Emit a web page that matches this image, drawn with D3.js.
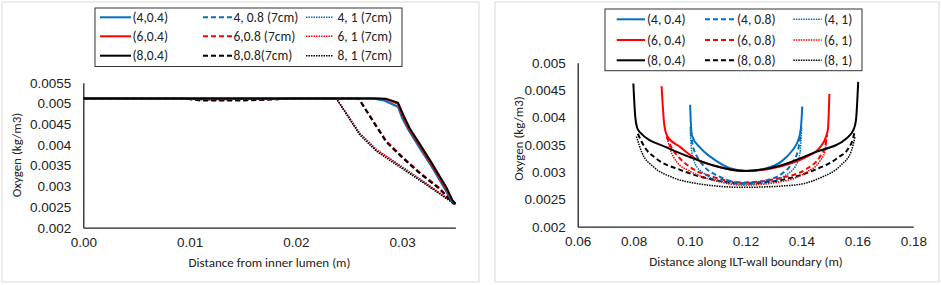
<!DOCTYPE html>
<html><head><meta charset="utf-8">
<script src="https://cdn.jsdelivr.net/npm/d3@7"></script>
<style>
body{margin:0;background:#fff;}
svg{display:block;font-family:Carlito,Lato,"Open Sans",sans-serif;}
</style></head>
<body>
<svg id="c" width="941" height="285"></svg>
<script>
// ---------- LEFT CHART DATA ----------
const leftXTicks = [0, 0.01, 0.02, 0.03];
const leftXLabels = ["0.00", "0.01", "0.02", "0.03"];
const leftYTicks = [0.002, 0.0025, 0.003, 0.0035, 0.004, 0.0045, 0.005, 0.0055];
const leftYLabels = ["0.002", "0.0025", "0.003", "0.0035", "0.004", "0.0045", "0.005", "0.0055"];
const leftNames = ["(4,0.4)", "4, 0.8 (7cm)", "4, 1 (7cm)", "(6,0.4)", "6,0.8 (7cm)", "6, 1 (7cm)", "(8,0.4)", "8,0.8(7cm)", "8, 1 (7cm)"];

const L_4_04 = [[0,0.00512],[0.0272,0.00512],[0.0283,0.00507],[0.0296,0.00492],[0.0300,0.00464],[0.0306,0.00435],[0.0315,0.00398],[0.0327,0.0035],[0.0340,0.00294],[0.0346,0.00266],[0.035,0.00258]];
const L_4_08 = [[0,0.00512],[0.0095,0.00512],[0.011,0.00509],[0.015,0.00509],[0.018,0.0051],[0.020,0.00512],[0.0259,0.00512],[0.0270,0.00468],[0.0285,0.00408],[0.0301,0.00368],[0.0317,0.00331],[0.0335,0.00295],[0.0348,0.00259],[0.035,0.00258]];
const L_4_1 = [[0,0.00512],[0.009,0.00511],[0.012,0.0051],[0.020,0.00512],[0.0238,0.00512],[0.0248,0.00474],[0.0260,0.00428],[0.0276,0.00388],[0.0298,0.0035],[0.0323,0.00306],[0.0348,0.00261],[0.035,0.00258]];
const L_6_04 = [[0,0.00512],[0.0276,0.00512],[0.0285,0.0051],[0.0296,0.00499],[0.0300,0.00472],[0.0306,0.0044],[0.0316,0.0040],[0.0328,0.00351],[0.0341,0.00295],[0.0347,0.00266],[0.035,0.00258]];
const L_6_08 = [[0,0.00512],[0.0095,0.00512],[0.011,0.00508],[0.015,0.00508],[0.018,0.0051],[0.020,0.00512],[0.0259,0.00512],[0.0270,0.00468],[0.0285,0.00409],[0.0301,0.00369],[0.0317,0.00332],[0.0335,0.00296],[0.0348,0.00259],[0.035,0.00258]];
const L_6_1 = [[0,0.00512],[0.009,0.00511],[0.012,0.00509],[0.020,0.00512],[0.0238,0.00512],[0.0248,0.00474],[0.0260,0.00428],[0.0276,0.00388],[0.0298,0.0035],[0.0323,0.00306],[0.0348,0.0026],[0.035,0.00258]];
const L_8_04 = [[0,0.00512],[0.0276,0.00512],[0.0285,0.00511],[0.0296,0.00502],[0.0301,0.00472],[0.0307,0.0044],[0.0317,0.0040],[0.0329,0.00351],[0.0342,0.00295],[0.0347,0.00267],[0.035,0.00258]];
const L_8_08 = [[0,0.00512],[0.0095,0.00512],[0.011,0.00507],[0.015,0.00507],[0.018,0.0051],[0.020,0.00512],[0.0259,0.00512],[0.0270,0.00467],[0.0285,0.00407],[0.0301,0.00367],[0.0317,0.0033],[0.0335,0.00294],[0.0348,0.00259],[0.035,0.00258]];
const L_8_1 = [[0,0.00512],[0.009,0.00511],[0.012,0.00509],[0.020,0.00512],[0.0238,0.00512],[0.0248,0.00472],[0.0260,0.00424],[0.0276,0.00384],[0.0298,0.00346],[0.0323,0.00303],[0.0348,0.00259],[0.035,0.00258]];

// ---------- RIGHT CHART DATA ----------
const rightXTicks = [0.06, 0.08, 0.10, 0.12, 0.14, 0.16, 0.18];
const rightXLabels = ["0.06", "0.08", "0.10", "0.12", "0.14", "0.16", "0.18"];
const rightYTicks = [0.002, 0.0025, 0.003, 0.0035, 0.004, 0.0045, 0.005];
const rightYLabels = ["0.002", "0.0025", "0.003", "0.0035", "0.004", "0.0045", "0.005"];
const rightNames = ["(4, 0.4)", "(4, 0.8)", "(4, 1)", "(6, 0.4)", "(6, 0.8)", "(6, 1)", "(8, 0.4)", "(8, 0.8)", "(8, 1)"];

const R_4_04 = [[0.1002,0.00423],[0.1005,0.00385],[0.1009,0.00366],[0.1037,0.00345],[0.1085,0.00324],[0.1145,0.00307],[0.1204,0.00302],[0.1276,0.00307],[0.1330,0.0032],[0.1365,0.00338],[0.1389,0.00359],[0.1398,0.0038],[0.1403,0.0042]];
const R_4_08 = [[0.1005,0.00374],[0.1010,0.00352],[0.1025,0.0033],[0.1049,0.00312],[0.1109,0.00291],[0.1192,0.0028],[0.1276,0.00285],[0.1330,0.00297],[0.1365,0.00315],[0.1388,0.0034],[0.1397,0.00368]];
const R_4_1 = [[0.1002,0.00382],[0.1007,0.0034],[0.1020,0.00315],[0.1050,0.00298],[0.1109,0.00284],[0.1192,0.00278],[0.1288,0.00282],[0.1345,0.00295],[0.1380,0.00312],[0.1395,0.00335],[0.1401,0.00382]];
const R_6_04 = [[0.0900,0.00457],[0.0910,0.00385],[0.0921,0.00365],[0.0966,0.00346],[0.1026,0.00323],[0.1109,0.00309],[0.1205,0.00302],[0.1323,0.0031],[0.1419,0.00328],[0.1466,0.00345],[0.1488,0.00365],[0.1495,0.0038],[0.1500,0.00443]];
const R_6_08 = [[0.0918,0.00365],[0.0935,0.00345],[0.0960,0.00328],[0.1002,0.00309],[0.1085,0.00291],[0.1192,0.00281],[0.1323,0.00289],[0.1419,0.00306],[0.1466,0.00328],[0.1485,0.00348],[0.1492,0.00368]];
const R_6_1 = [[0.0920,0.00362],[0.0932,0.0034],[0.0955,0.00318],[0.1000,0.00302],[0.1085,0.00285],[0.1192,0.00276],[0.1323,0.00282],[0.1419,0.003],[0.1466,0.0032],[0.1484,0.00338],[0.1490,0.00362]];
const R_8_04 = [[0.0799,0.00462],[0.0806,0.0040],[0.0812,0.00382],[0.0822,0.00373],[0.0918,0.00345],[0.1002,0.00327],[0.1085,0.00312],[0.1192,0.00302],[0.1312,0.0031],[0.1443,0.00335],[0.1562,0.00362],[0.1586,0.00377],[0.1595,0.00395],[0.1603,0.00465]];
const R_8_08 = [[0.0815,0.00370],[0.0840,0.00345],[0.0880,0.00325],[0.0966,0.00304],[0.1085,0.00286],[0.1192,0.00279],[0.1323,0.00285],[0.1443,0.00303],[0.1530,0.00326],[0.1570,0.00345],[0.1585,0.00362],[0.1590,0.00374]];
const R_8_1 = [[0.0810,0.00365],[0.0830,0.00335],[0.0870,0.0031],[0.0940,0.0029],[0.1026,0.00279],[0.1192,0.00272],[0.1371,0.00276],[0.1470,0.0029],[0.1540,0.00312],[0.1578,0.00338],[0.1592,0.00365]];

// ---------- STYLES ----------
const BLUE = "#0070c0", RED = "#ff0000", BLACK = "#000000";
const styles = [
  {c: BLUE, d: null, w: 2}, {c: BLUE, d: "5,3", w: 2}, {c: BLUE, d: "1.5,1", w: 1.5},
  {c: RED, d: null, w: 2}, {c: RED, d: "5,3", w: 2}, {c: RED, d: "1.5,1", w: 1.5},
  {c: BLACK, d: null, w: 2}, {c: BLACK, d: "5,3", w: 2}, {c: BLACK, d: "1.5,1", w: 1.5}
];

const svg = d3.select("#c");

function panel(cfg) {
  const g = svg.append("g");
  g.append("rect").attr("x", cfg.box[0]).attr("y", cfg.box[1]).attr("width", cfg.box[2]).attr("height", cfg.box[3])
    .attr("fill", "#fff").attr("stroke", "#d9d9d9").attr("stroke-width", 1);

  const x = d3.scaleLinear().domain(cfg.xDomain).range([cfg.plot.x0, cfg.plot.x1]);
  const y = d3.scaleLinear().domain(cfg.yDomain).range([cfg.plot.y1, cfg.plot.y0]);

  const yAxis = d3.axisLeft(y).tickValues(cfg.yTicks).tickSize(0).tickPadding(12)
    .tickFormat((d, i) => cfg.yLabels[i]);
  const ya = g.append("g").attr("transform", `translate(${cfg.plot.x0},0)`).call(yAxis);
  const xAxis = d3.axisBottom(x).tickValues(cfg.xTicks).tickSize(0).tickPadding(10)
    .tickFormat((d, i) => cfg.xLabels[i]);
  const xa = g.append("g").attr("transform", `translate(0,${cfg.plot.y1})`).call(xAxis);
  [ya, xa].forEach(a => {
    a.select(".domain").attr("stroke", "#222").attr("stroke-width", 1.3);
    a.selectAll("text").attr("font-size", 13.5).attr("fill", "#222").attr("font-family", null);
  });

  g.append("text").attr("x", cfg.xTitle[1]).attr("y", cfg.xTitle[2]).attr("text-anchor", "middle")
    .attr("font-size", 13).attr("fill", "#222").text(cfg.xTitle[0]);
  g.append("text").attr("transform", `translate(${cfg.yTitle[1]},${cfg.yTitle[2]}) rotate(-90)`)
    .attr("text-anchor", "middle").attr("font-size", 13).attr("fill", "#222").text(cfg.yTitle[0]);

  const line = d3.line().x(d => x(d[0])).y(d => y(d[1])).curve(cfg.curve);
  cfg.drawOrder.forEach(i => {
    const s = styles[i];
    g.append("path").datum(cfg.series[i]).attr("d", line).attr("fill", "none")
      .attr("stroke", s.c).attr("stroke-width", s.w).attr("stroke-dasharray", s.d)
      .attr("stroke-linejoin", "round");
  });

  // legend
  const lg = cfg.legend;
  g.append("rect").attr("x", lg.box[0]).attr("y", lg.box[1]).attr("width", lg.box[2]).attr("height", lg.box[3])
    .attr("fill", "#fff").attr("stroke", "#333").attr("stroke-width", 1);
  cfg.names.forEach((n, i) => {
    const row = Math.floor(i / 3), col = i % 3;
    const s = styles[i];
    const ly = lg.rows[row];
    const c = lg.cols[col];
    g.append("line").attr("x1", c[0]).attr("x2", c[1]).attr("y1", ly).attr("y2", ly)
      .attr("stroke", s.c).attr("stroke-width", s.w).attr("stroke-dasharray", s.d);
    g.append("text").attr("x", c[2]).attr("y", ly).attr("dy", "0.35em").attr("font-size", 13.5)
      .attr("fill", "#222").text(n);
  });
}

panel({
  box: [2, 2, 477, 280],
  xDomain: [0, 0.035], yDomain: [0.002, 0.0055],
  plot: {x0: 83.3, x1: 455.4, y0: 82.7, y1: 227.7},
  xTicks: leftXTicks, xLabels: leftXLabels, yTicks: leftYTicks, yLabels: leftYLabels,
  xTitle: ["Distance from inner lumen (m)", 269.5, 267],
  yTitle: ["Oxygen (kg/m3)", 21, 155],
  curve: d3.curveLinear,
  series: [L_4_04, L_4_08, L_4_1, L_6_04, L_6_08, L_6_1, L_8_04, L_8_08, L_8_1],
  drawOrder: [2, 5, 8, 1, 4, 7, 0, 3, 6],
  names: leftNames,
  legend: {box: [95, 8, 307, 58.5], rows: [17.3, 36.3, 55.7],
    cols: [[100, 131, 132.5], [203, 232, 233.5], [306, 333, 337.5]]}
});

panel({
  box: [495, 2, 444, 280],
  xDomain: [0.06, 0.18], yDomain: [0.002, 0.005],
  plot: {x0: 577.7, x1: 913.3, y0: 62.7, y1: 226.7},
  xTicks: rightXTicks, xLabels: rightXLabels, yTicks: rightYTicks, yLabels: rightYLabels,
  xTitle: ["Distance along ILT-wall boundary (m)", 746, 266],
  yTitle: ["Oxygen (kg/m3)", 522.5, 138.5],
  curve: d3.curveMonotoneX,
  series: [R_4_04, R_4_08, R_4_1, R_6_04, R_6_08, R_6_1, R_8_04, R_8_08, R_8_1],
  drawOrder: [8, 7, 5, 4, 2, 1, 0, 3, 6],
  names: rightNames,
  legend: {box: [605, 9, 257, 61.7], rows: [19.3, 40, 60.3],
    cols: [[616.7, 645, 647], [705, 735, 737], [793.3, 821.7, 824]]}
});
</script>
</body></html>
